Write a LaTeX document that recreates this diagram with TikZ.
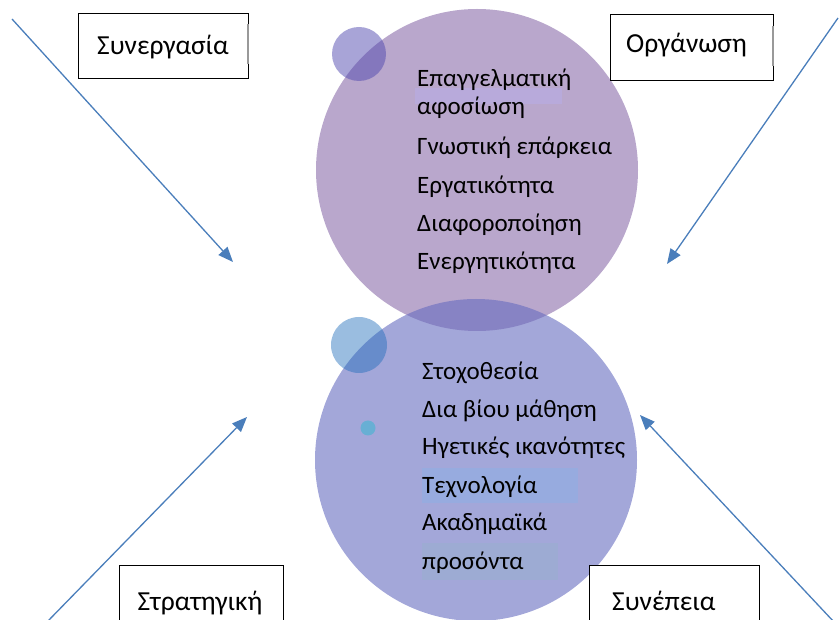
\documentclass[tikz,border=0pt]{standalone}
\usepackage{fontspec}
\setmainfont{Carlito}
\usetikzlibrary{arrows.meta}
\definecolor{topc}{HTML}{B9A7CC}
\definecolor{botc}{HTML}{666CC0}
\definecolor{smtop}{HTML}{5149AF}
\definecolor{smbot}{HTML}{1F6DBB}
\definecolor{dotc}{HTML}{68AFD4}
\definecolor{arrc}{HTML}{4A7EBB}
\definecolor{hlA}{HTML}{B8AADB}
\definecolor{hlB}{HTML}{97ABDF}
\definecolor{hlC}{HTML}{9DABD3}
\tikzset{
  disc/.style={circle, inner sep=0pt, draw=none},
  item/.style={anchor=base west, inner sep=0pt, font=\fontsize{25}{30}\selectfont},
  labelbox/.style={draw=black, line width=0.8pt, inner sep=0pt},
  boxtext/.style={inner sep=0pt, font=\fontsize{27.5}{32}\selectfont},
  arr/.style={draw=arrc, line width=1.3pt, -{Triangle[length=15pt,width=12pt]}},
}
\begin{document}
\begin{tikzpicture}[x=1pt,y=-1pt]
\useasboundingbox (0,0) rectangle (839,620);
\clip (0,0) rectangle (839,620);
% circles
\node[disc, minimum size=322pt, fill=topc] (topc) at (477,170) {};
\node[disc, minimum size=54pt, fill=smtop, fill opacity=0.5] (topsm) at (359,54) {};
\node[disc, minimum size=322pt, fill=botc, fill opacity=0.6] (botc) at (476,460) {};
\node[disc, minimum size=56pt, fill=smbot, fill opacity=0.45] (botsm) at (359,345) {};
\node[disc, minimum size=15pt, fill=dotc] (dot) at (368,428) {};
% highlight bands
\fill[hlA] (415,88) rectangle (562,104);
\fill[hlB] (422,468) rectangle (578,503);
\fill[hlC] (422,543) rectangle (558,580);
% top list
\node[item] (t1) at (417,87) {Επαγγελματική};
\node[item] (t2) at (417,115) {αφοσίωση};
\node[item] (t3) at (417,155) {Γνωστική επάρκεια};
\node[item] (t4) at (417,194) {Εργατικότητα};
\node[item] (t5) at (417,232) {Διαφοροποίηση};
\node[item] (t6) at (417,270) {Ενεργητικότητα};
% bottom list
\node[item] (b1) at (422,380) {Στοχοθεσία};
\node[item] (b2) at (422,418) {Δια βίου μάθηση};
\node[item] (b3) at (422,455) {Ηγετικές ικανότητες};
\node[item] (b4) at (422,494) {Τεχνολογία};
\node[item] (b5) at (422,531) {Ακαδημαϊκά};
\node[item] (b6) at (422,569) {προσόντα};
% boxes
\node[labelbox, minimum width=170pt, minimum height=65pt, fill=white] (bx1) at (163,45.5) {};
\node[labelbox, minimum width=163pt, minimum height=66pt, fill=white] (bx2) at (691.5,47) {};
\node[labelbox, minimum width=164pt, minimum height=80pt, fill=white] (bx3) at (201,605) {};
\node[labelbox, minimum width=170pt, minimum height=80pt, fill=white] (bx4) at (674,605) {};
\draw[gray!80, line width=2pt] ([yshift=-19pt]bx1.east) -- ([yshift=21pt]bx1.east);
\draw[gray!80, line width=2pt] ([yshift=-19pt]bx2.east) -- ([yshift=21pt]bx2.east);
\node[boxtext] (l1) at (163,47) {Συνεργασία};
\node[boxtext] (l2) at (686.5,45) {Οργάνωση};
\node[boxtext, anchor=base] (l3) at (200,610) {Στρατηγική};
\node[boxtext, anchor=base west] (l4) at (612,610) {Συνέπεια};
% arrows
\coordinate (a1s) at (12,19);   \coordinate (a1e) at (233,262);
\coordinate (a2s) at (838,18);  \coordinate (a2e) at (667,264);
\coordinate (a3s) at (47,622);  \coordinate (a3e) at (247,417);
\coordinate (a4s) at (834,622); \coordinate (a4e) at (640,415);
\draw[arr] (a1s) -- (a1e);
\draw[arr] (a2s) -- (a2e);
\draw[arr] (a3s) -- (a3e);
\draw[arr] (a4s) -- (a4e);
\end{tikzpicture}
\end{document}
